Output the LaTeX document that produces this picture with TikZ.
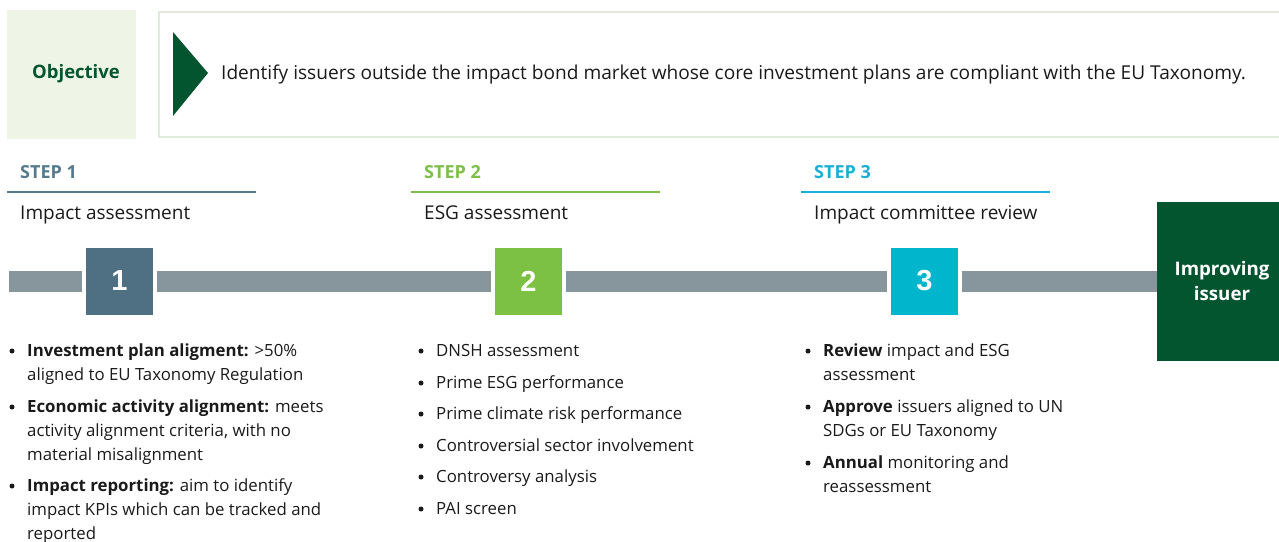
\documentclass[tikz,border=0pt]{standalone}
\usepackage{fontspec}
\setmainfont{Open Sans}
\newfontfamily\numfont{Liberation Sans}
\definecolor{objfill}{HTML}{EEF4E6}
\definecolor{objline}{HTML}{E0EADA}
\definecolor{darkgreen}{HTML}{03552F}
\definecolor{stepone}{HTML}{557A8C}
\definecolor{boxone}{HTML}{4F7082}
\definecolor{steptwo}{HTML}{7DBF4A}
\definecolor{boxtwo}{HTML}{7CC143}
\definecolor{stepthree}{HTML}{1AB0D6}
\definecolor{boxthree}{HTML}{00B5CC}
\definecolor{barcol}{HTML}{87959D}
\definecolor{txt}{HTML}{1A1A1A}
\tikzset{
	steptitle/.style={anchor=base west, inner sep=0pt, font=\bfseries\fontsize{18}{20}\selectfont},
	subtitle/.style={anchor=base west, inner sep=0pt, text=txt, font=\fontsize{19}{22}\selectfont},
	item/.style={anchor=north west, inner sep=0pt, align=left, text=txt, font=\fontsize{16.8}{24}\selectfont},
	numbox/.style={minimum size=67pt, inner sep=0pt, text=white, font=\numfont\bfseries\fontsize{29}{30}\selectfont},
	timeline/.style={draw=barcol, line width=21pt},
	gap/.style={shorten <=3.5pt, shorten >=3.5pt}
}
\begin{document}
\begin{tikzpicture}[x=1pt,y=-1pt]
	\useasboundingbox (0,0) rectangle (1279,541);

	% objective
	\fill [objfill] (7,10) rectangle (136,139);
	\node (obj) [inner sep=0pt, text=darkgreen, font=\bfseries\fontsize{18.5}{20}\selectfont] at (76,74) {Objective};
	\draw [objline, line width=2pt] (159,12) rectangle (1295,137);
	\fill [darkgreen] (173,32) -- (208,73) -- (173,116) -- cycle;
	\node (goal) [anchor=base west, inner sep=0pt, text=txt, font=\fontsize{19.1}{22}\selectfont] at (221,79)
		{Identify issuers outside the impact bond market whose core investment plans are compliant with the EU Taxonomy.};

	% step headers
	\node (st1) [steptitle, text=stepone] at (20,178) {STEP 1};
	\node (st2) [steptitle, text=steptwo] at (424,178) {STEP 2};
	\node (st3) [steptitle, text=stepthree] at (814,178) {STEP 3};
	\draw [stepone, line width=1.5pt] (7,192) to (256,192);
	\draw [steptwo, line width=1.5pt] (411,192) to (660,192);
	\draw [stepthree, line width=1.5pt] (801,192) to (1050,192);
	\node (sub1) [subtitle] at (20,219) {Impact assessment};
	\node (sub2) [subtitle] at (424,219) {ESG assessment};
	\node (sub3) [subtitle] at (814,219) {Impact committee review};

	% timeline
	\coordinate (barstart) at (9,281);
	\node (s1) [numbox, fill=boxone] at (119.5,281) {1};
	\node (s2) [numbox, fill=boxtwo] at (528.5,281) {2};
	\node (s3) [numbox, fill=boxthree] at (924.5,281) {3};
	\node (iss) [fill=darkgreen, minimum width=130pt, minimum height=159pt, inner sep=0pt, align=center,
		text=white, font=\bfseries\fontsize{18.7}{25}\selectfont] at (1222,281) {Improving\\issuer};
	\draw [timeline, shorten >=3.5pt] (barstart) to (s1);
	\draw [timeline, gap] (s1) to (s2);
	\draw [timeline, gap] (s2) to (s3);
	\draw [timeline, shorten <=3.5pt] (s3) to (iss);

	% step 1 list
	\node (a1) [item] at (27,339) {\strut\textbf{Investment plan aligment:} >50\%\\aligned to EU Taxonomy Regulation};
	\node (a2) [item] at (27,395) {\strut\textbf{Economic activity alignment:} meets\\activity alignment criteria, with no\\material misalignment};
	\node (a3) [item] at (27,474) {\strut\textbf{Impact reporting:} aim to identify\\impact KPIs which can be tracked and\\reported};

	% step 2 list
	\node (b1) [item] at (436,339) {\strut DNSH assessment};
	\node (b2) [item] at (436,371) {\strut Prime ESG performance};
	\node (b3) [item] at (436,402) {\strut Prime climate risk performance};
	\node (b4) [item] at (436,434) {\strut Controversial sector involvement};
	\node (b5) [item] at (436,465) {\strut Controversy analysis};
	\node (b6) [item] at (436,497) {\strut PAI screen};

	% step 3 list
	\node (c1) [item] at (823,339) {\strut\textbf{Review} impact and ESG\\assessment};
	\node (c2) [item] at (823,395) {\strut\textbf{Approve} issuers aligned to UN\\SDGs or EU Taxonomy};
	\node (c3) [item] at (823,451) {\strut\textbf{Annual} monitoring and\\reassessment};

	% bullets
	\foreach \n in {a1,a2,a3,b1,b2,b3,b4,b5,b6,c1,c2,c3}
		\fill [txt] (\n.north west) ++(-15,12) circle (2.5pt);
\end{tikzpicture}
\end{document}
